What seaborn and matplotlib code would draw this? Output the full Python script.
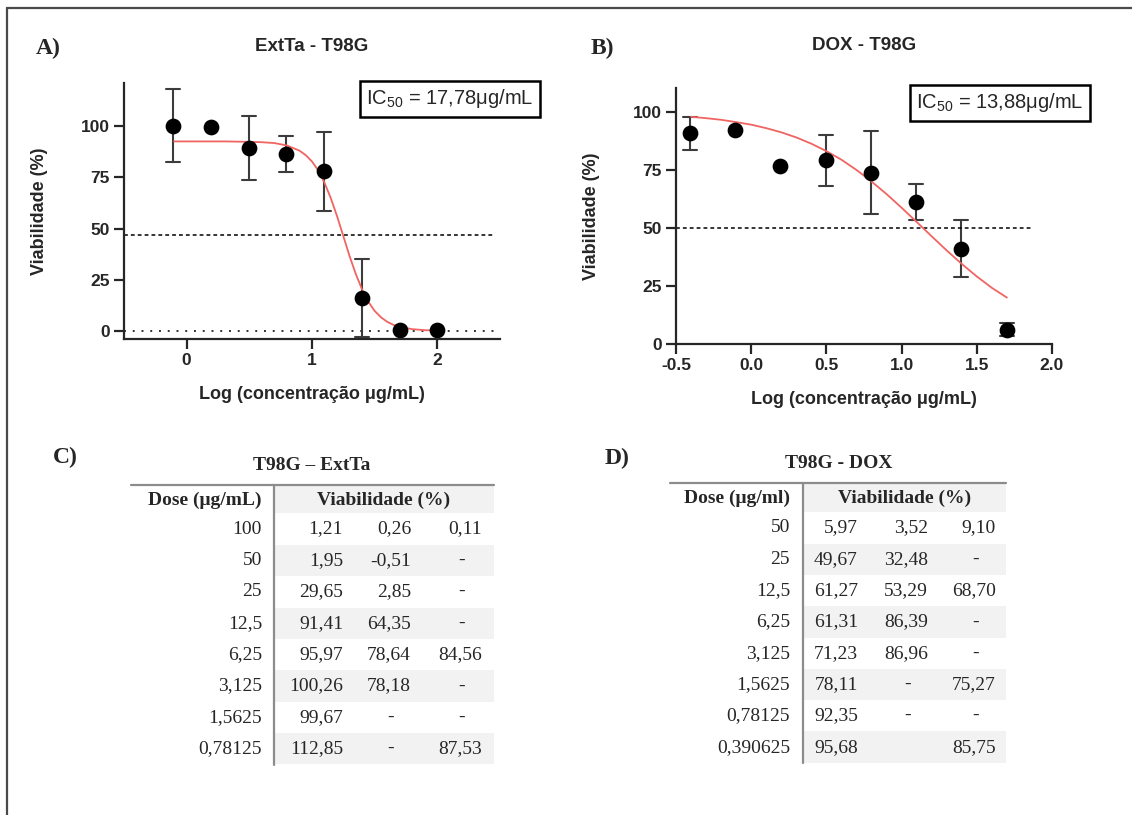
import numpy as np
import pandas as pd
import matplotlib
matplotlib.use("Agg")
import matplotlib.pyplot as plt
import seaborn as sns
from matplotlib.patches import Rectangle

# ------------------------------------------------------------
# Data: tables C and D, as printed (comma decimals, "-" = missing)
# ------------------------------------------------------------
extta_doses = ["100", "50", "25", "12,5", "6,25", "3,125", "1,5625", "0,78125"]
extta_rep1 = ["1,21", "1,95", "29,65", "91,41", "95,97", "100,26", "99,67", "112,85"]
extta_rep2 = ["0,26", "-0,51", "2,85", "64,35", "78,64", "78,18", "-", "-"]
extta_rep3 = ["0,11", "-", "-", "-", "84,56", "-", "-", "87,53"]

dox_doses = ["50", "25", "12,5", "6,25", "3,125", "1,5625", "0,78125", "0,390625"]
dox_rep1 = ["5,97", "49,67", "61,27", "61,31", "71,23", "78,11", "92,35", "95,68"]
dox_rep2 = ["3,52", "32,48", "53,29", "86,39", "86,96", "-", "-", ""]
dox_rep3 = ["9,10", "-", "68,70", "-", "-", "75,27", "-", "85,75"]

extta_curve_x = [-0.1, 0.0, 0.1, 0.2, 0.3, 0.4, 0.5, 0.6, 0.7, 0.8, 0.9, 0.95, 1.0, 1.05,
                 1.1, 1.15, 1.2, 1.25, 1.3, 1.35, 1.4, 1.45, 1.5, 1.55, 1.6, 1.65, 1.7,
                 1.8, 1.9, 2.0]
extta_curve_y = [92.5, 92.5, 92.5, 92.5, 92.5, 92.4, 92.3, 92.1, 91.7, 90.5, 88.0, 85.8, 82.7,
                 78.3, 72.3, 64.8, 56.0, 46.3, 36.5, 27.7, 20.2, 14.2, 9.8, 6.7, 4.5, 3.0,
                 2.0, 0.9, 0.4, 0.2]
dox_curve_x = [-0.4, -0.3, -0.2, -0.1, 0.0, 0.1, 0.2, 0.3, 0.4, 0.5, 0.6, 0.7, 0.8, 0.9,
               1.0, 1.1, 1.2, 1.3, 1.4, 1.5, 1.6, 1.7]
dox_curve_y = [97.9, 97.3, 96.6, 95.6, 94.5, 93.0, 91.2, 89.0, 86.3, 83.1, 79.4, 75.0, 70.0,
               64.6, 58.7, 52.6, 46.4, 40.3, 34.5, 29.1, 24.2, 20.0]

extta_ic50 = "17,78"
dox_ic50 = "13,88"
extta_half = 47     # dotted line in A
dox_half = 50       # dotted line in B

RED = "#f06462"
SERIF = ["Liberation Serif", "DejaVu Serif"]

sns.set_style("ticks")
plt.rcParams["font.family"] = ["Liberation Sans", "DejaVu Sans"]
plt.rcParams["mathtext.fontset"] = "custom"
plt.rcParams["mathtext.rm"] = "Liberation Sans"


def to_num(s):
    return np.nan if s in ("-", "") else float(s.replace(",", "."))


def long_form(doses, *reps):
    rows = []
    for i, d in enumerate(doses):
        for rep in reps:
            v = to_num(rep[i])
            if not np.isnan(v):
                rows.append({"logdose": np.log10(to_num(d)), "viab": v})
    return pd.DataFrame(rows)


def dose_plot(ax, df, cx, cy, half, half_end, xlim, ylim, xticks, xticklabels,
              title, title_pad, capsize):
    ax.hlines(half, xlim[0], half_end, color="black", lw=1.1, linestyles=(0, (2.5, 2)))
    if ylim[0] < 0:
        ax.hlines(0, xlim[0], half_end, color="#333333", lw=1.4, linestyles=(0, (1, 3.5)))
    sns.lineplot(x=cx, y=cy, color=RED, lw=1.3, ax=ax)
    sns.pointplot(data=df, x="logdose", y="viab", native_scale=True, errorbar="sd",
                  capsize=capsize, linestyle="none", color="black", markersize=9.3,
                  err_kws={"color": "#3c3c3c", "linewidth": 1.5, "zorder": 1}, ax=ax)
    # like Prism: error bars shorter than the symbol are not shown
    for ln in list(ax.lines):
        y = np.asarray(ln.get_ydata(), dtype=float)
        if len(y) == 8 and np.nanmax(y) - np.nanmin(y) < 5:
            ln.remove()
    ax.set_xlim(*xlim)
    ax.set_ylim(*ylim)
    ax.set_xticks(xticks)
    ax.set_xticklabels(xticklabels)
    ax.set_yticks([0, 25, 50, 75, 100])
    sns.despine(ax=ax)
    for sp in ("left", "bottom"):
        ax.spines[sp].set_linewidth(1.6)
    ax.tick_params(length=7, width=1.6, labelsize=12.5, pad=3)
    for lab in ax.get_xticklabels() + ax.get_yticklabels():
        lab.set_fontweight("bold")
    ax.set_xlabel("Log (concentração μg/mL)", fontsize=13, fontweight="bold", labelpad=13)
    ax.set_ylabel("Viabilidade (%)", fontsize=13, fontweight="bold", labelpad=24)
    ax.set_title(title, fontsize=13.5, fontweight="bold", pad=title_pad)


def draw_table(ov, title, title_xy, dose_head, doses, reps, x_left, x_sep, x_right,
               dose_right, col_rights, y_rule, head_y, row0, row_h):
    ov.text(*title_xy, title, ha="center", va="center", fontsize=14, fontweight="bold",
            family=SERIF)
    # shaded bands (header + every second row), right part only
    ov.add_patch(Rectangle((x_sep, y_rule), x_right - x_sep, row0 - row_h / 2 - y_rule,
                           fc="#f2f2f2", ec="none"))
    for i in range(1, len(doses), 2):
        ov.add_patch(Rectangle((x_sep, row0 + row_h * i - row_h / 2), x_right - x_sep, row_h,
                               fc="#f2f2f2", ec="none"))
    y_end = row0 + row_h * (len(doses) - 0.5)
    ov.plot([x_left, x_right], [y_rule, y_rule], color="#8c8c8c", lw=1.6)
    ov.plot([x_sep, x_sep], [y_rule, y_end], color="#8c8c8c", lw=1.6)
    ov.text(dose_right, head_y, dose_head, ha="right", va="center", fontsize=14,
            fontweight="bold", family=SERIF)
    ov.text((x_sep + x_right) / 2, head_y, "Viabilidade (%)", ha="center", va="center",
            fontsize=14, fontweight="bold", family=SERIF)
    for i, d in enumerate(doses):
        y = row0 + row_h * i
        ov.text(dose_right, y, d, ha="right", va="center", fontsize=14, family=SERIF)
        for xr, rep in zip(col_rights, reps):
            s = rep[i]
            if s == "-":
                ov.text(xr - 20, y, s, ha="center", va="center", fontsize=14, family=SERIF)
            elif s:
                ov.text(xr, y, s, ha="right", va="center", fontsize=14, family=SERIF)


fig = plt.figure(figsize=(11.32, 8.15), dpi=100)

# overlay in pixel coordinates for frame, panel letters, IC50 boxes and tables
ov = fig.add_axes([0, 0, 1, 1])
ov.set_xlim(0, 1132)
ov.set_ylim(815, 0)
ov.axis("off")
ov.set_zorder(10)
ov.plot([7, 1132], [8, 8], color="#4a4a4a", lw=1.6)
ov.plot([7, 7], [8, 815], color="#4a4a4a", lw=1.6)
for lbl, x, y in [("A)", 48, 48), ("B)", 602, 48), ("C)", 65, 457), ("D)", 617, 458)]:
    ov.text(x, y, lbl, ha="center", va="center", fontsize=17, fontweight="bold", family=SERIF)

# Panel A
axA = fig.add_axes([124 / 1132, 1 - 339 / 815, 376 / 1132, 256 / 815])
dose_plot(axA, long_form(extta_doses, extta_rep1, extta_rep2, extta_rep3),
          extta_curve_x, extta_curve_y, extta_half, 2.45, (-0.5, 2.5), (-3.9, 121),
          [0, 1, 2], ["0", "1", "2"], "ExtTa - T98G", 23, 0.37)

# Panel B
axB = fig.add_axes([676 / 1132, 1 - 344 / 815, 376 / 1132, 256 / 815])
dose_plot(axB, long_form(dox_doses, dox_rep1, dox_rep2, dox_rep3),
          dox_curve_x, dox_curve_y, dox_half, 1.86, (-0.5, 2.0), (0, 110.3),
          [-0.5, 0.0, 0.5, 1.0, 1.5, 2.0], ["-0.5", "0.0", "0.5", "1.0", "1.5", "2.0"],
          "DOX - T98G", 27, 0.31)

for (cx, cy), ic in [((450, 99), extta_ic50), ((1000, 103), dox_ic50)]:
    ov.text(cx, cy, r"IC$_{\mathrm{50}}$ = " + ic + "μg/mL", ha="center", va="center",
            fontsize=14.5,
            bbox=dict(boxstyle="square,pad=0.3", fc="white", ec="black", lw=1.8))

# Tables
draw_table(ov, "T98G – ExtTa", (312, 466), "Dose (μg/mL)", extta_doses,
           [extta_rep1, extta_rep2, extta_rep3], 131, 274, 494, 262, [343, 411, 482],
           485, 500, 529, 31.4)
draw_table(ov, "T98G - DOX", (839, 463), "Dose (μg/ml)", dox_doses,
           [dox_rep1, dox_rep2, dox_rep3], 670, 803, 1006, 790, [858, 928, 996],
           483, 498, 528, 31.3)

fig.savefig("out.png", dpi=100, facecolor="white")
